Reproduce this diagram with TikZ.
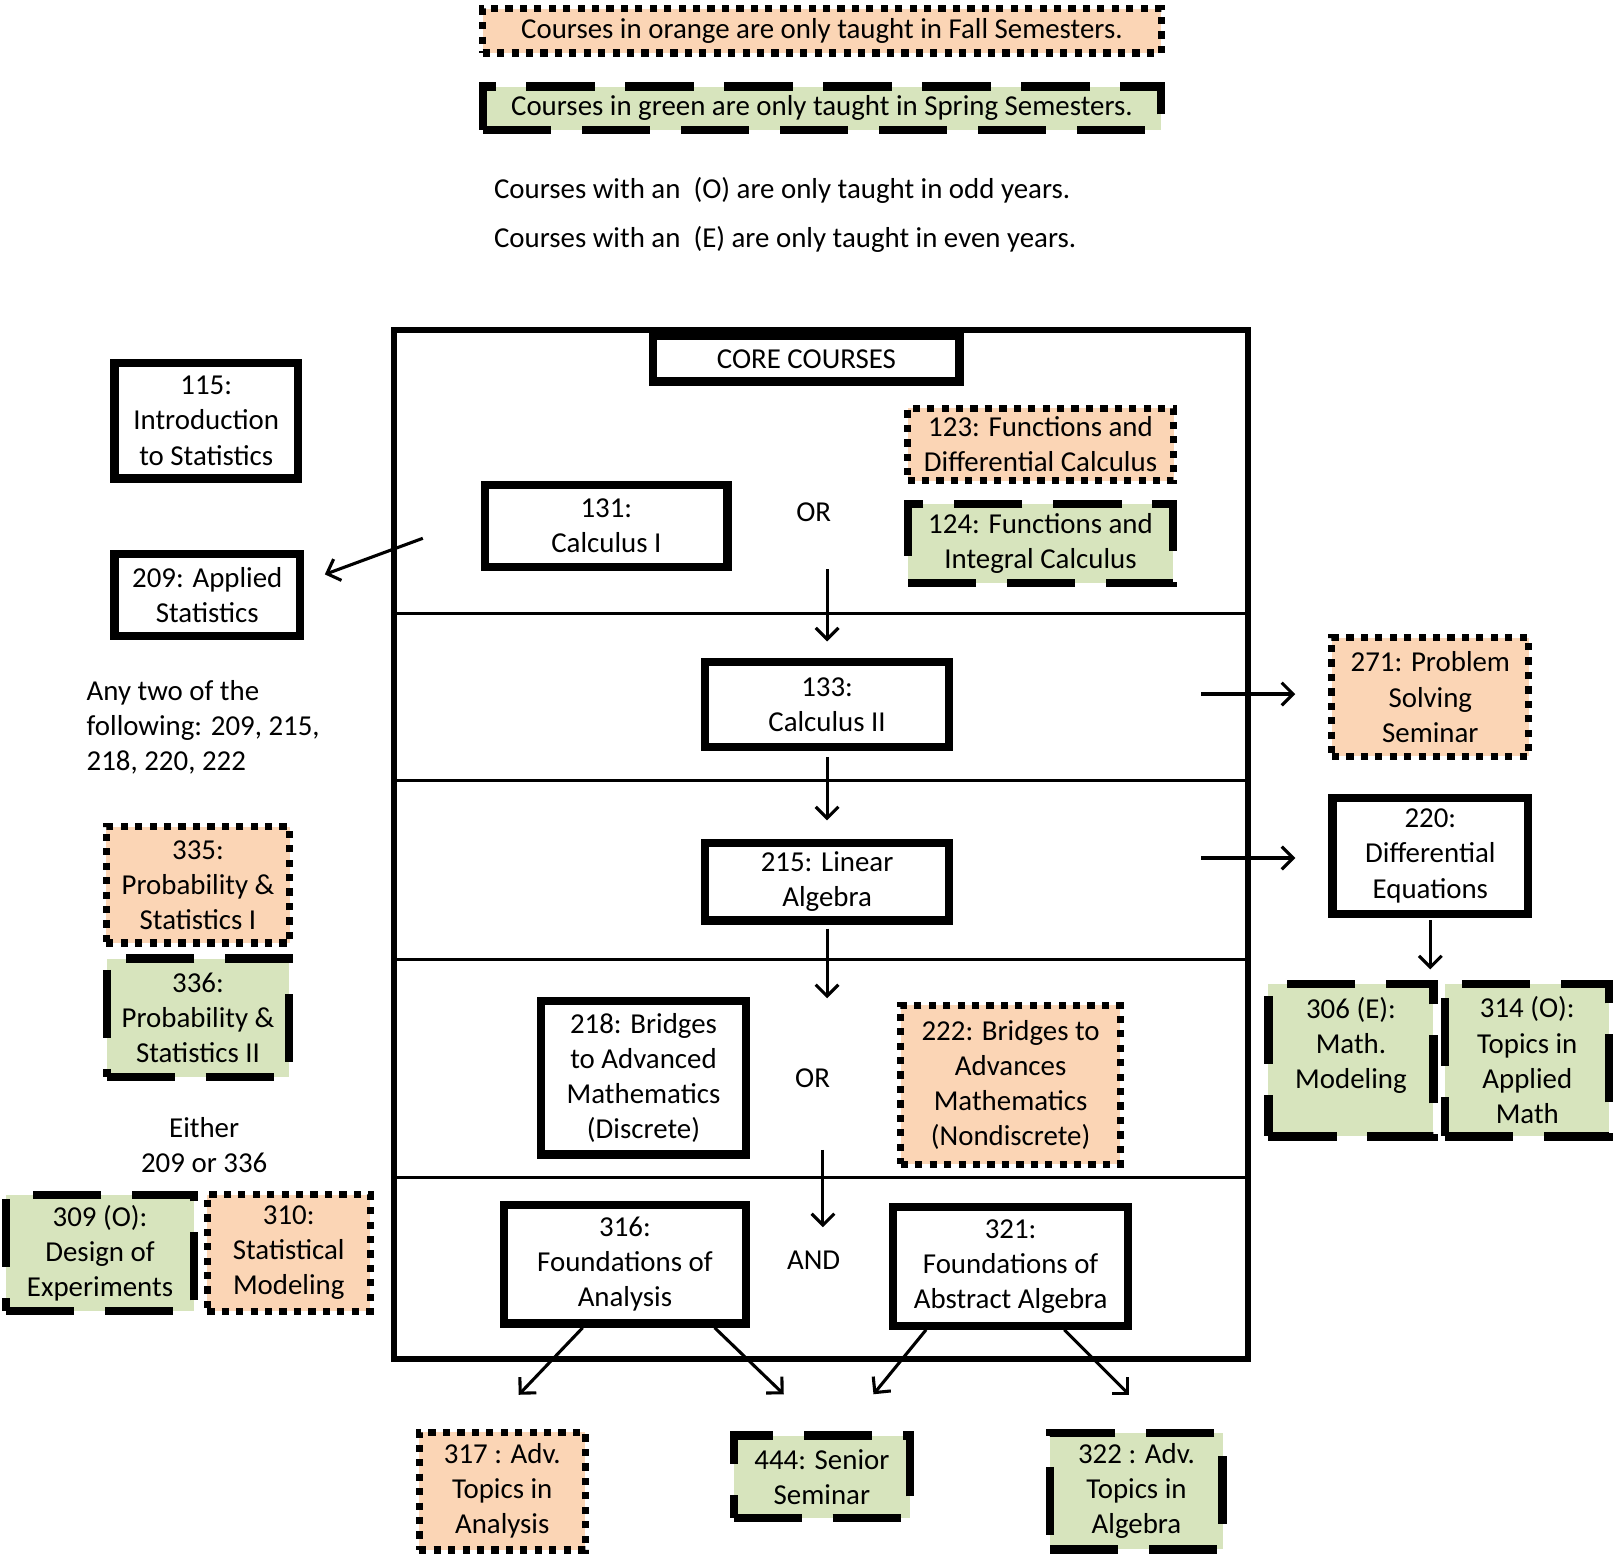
\documentclass[tikz,border=0pt]{standalone}
\usepackage{fontspec}
\setmainfont{Carlito}
\usetikzlibrary{arrows.meta}
\definecolor{fallor}{HTML}{FBD5B5}
\definecolor{springgr}{HTML}{D7E4BD}
\begin{document}
\begin{tikzpicture}[x=0.5pt,y=-0.5pt,
    every node/.style={font=\fontsize{14}{17}\selectfont},
    course/.style={draw, line width=4pt, align=center, inner sep=1pt},
    fall/.style={course, fill=fallor, line width=3.5pt, dash pattern=on 3.5pt off 3.5pt},
    spring/.style={course, fill=springgr, dash pattern=on 33pt off 15pt},
    arr/.style={-{Straight Barb[length=5.5pt,width=11pt]}, line width=1.5pt}]
    \useasboundingbox (0,0) rectangle (1568,1514);
    \node [fall, minimum width=329pt, minimum height=21.5pt] (lfall) at (797,30)
        {Courses in orange are only taught in Fall Semesters.};
    \node [spring, minimum width=328.5pt, minimum height=21pt] (lspring) at (797,105)
        {Courses in green are only taught in Spring Semesters.};
    \node [anchor=west] (lodd) at (472,185) {Courses with an\ \ (O) are only taught in odd years.};
    \node [anchor=west] (leven) at (472,232) {Courses with an\ \ (E) are only taught in even years.};
    \draw [line width=3pt] (382,320) rectangle (1210,1318);
    \foreach \y in {595,757,930,1142}
        \draw [line width=1.5pt] (382,\y) -- (1210,\y);
    \node [course, minimum width=148.5pt, minimum height=22pt] (core) at (782,348) {CORE COURSES};
    \node [course, minimum width=117.5pt, minimum height=39.5pt] (c131) at (588,510) {131:\\Calculus I};
    \node (or1) at (789,497) {OR};
    \node [fall, minimum width=129pt, minimum height=35pt] (c123) at (1009,431) {123: Functions and\\Differential Calculus};
    \node [spring, minimum width=128.5pt, minimum height=38.5pt] (c124) at (1009,527) {124: Functions and\\Integral Calculus};
    \node [course, minimum width=118.5pt, minimum height=41pt] (c133) at (802,683) {133:\\Calculus II};
    \node [course, minimum width=118.5pt, minimum height=37.5pt] (c215) at (802,855) {215: Linear\\Algebra};
    \node [course, minimum width=99.5pt, minimum height=74.5pt] (c218) at (624,1045) {218: Bridges\\to Advanced\\Mathematics\\(Discrete)};
    \node (or2) at (788,1046) {OR};
    \node [fall, minimum width=106.5pt, minimum height=77pt] (c222) at (980,1052) {222: Bridges to\\Advances\\Mathematics\\(Nondiscrete)};
    \node [course, minimum width=117.5pt, minimum height=57.5pt] (c316) at (606,1226) {316:\\Foundations of\\Analysis};
    \node (and) at (789,1222) {AND};
    \node [course, minimum width=114pt, minimum height=57.5pt] (c321) at (980,1228) {321:\\Foundations of\\Abstract Algebra};
    \node [fall, minimum width=80.5pt, minimum height=57pt] (c317) at (487,1446) {317 : Adv.\\Topics in\\Analysis};
    \node [spring, minimum width=85.5pt, minimum height=40pt] (c444) at (797,1432) {444: Senior\\Seminar};
    \node [spring, minimum width=83.5pt, minimum height=56.5pt] (c322) at (1102,1446) {322 : Adv.\\Topics in\\Algebra};
    \node [course, minimum width=89pt, minimum height=56pt] (c115) at (200,408) {115:\\Introduction\\to Statistics};
    \node [course, minimum width=90pt, minimum height=39.5pt] (c209) at (201,577) {209: Applied\\Statistics};
    \node [anchor=west, align=left] (anytwo) at (77,705) {Any two of the\\following: 209, 215,\\218, 220, 222};
    \node [fall, minimum width=89pt, minimum height=56.5pt] (c335) at (192,858) {335:\\Probability \&\\Statistics I};
    \node [spring, minimum width=88.5pt, minimum height=57.5pt] (c336) at (192,987) {336:\\Probability \&\\Statistics II};
    \node [align=center] (either) at (198,1110) {Either\\209 or 336};
    \node [spring, minimum width=91pt, minimum height=56pt] (c309) at (97,1215) {309 (O):\\Design of\\Experiments};
    \node [fall, minimum width=79pt, minimum height=56.5pt] (c310) at (280,1215) {310:\\Statistical\\Modeling};
    \node [fall, minimum width=95.5pt, minimum height=57.5pt] (c271) at (1387,676) {271: Problem\\Solving\\Seminar};
    \node [course, minimum width=95pt, minimum height=56.5pt] (c220) at (1387,830) {220:\\Differential\\Equations};
    \node [spring, minimum width=80pt, minimum height=74pt] (c306) at (1310,1028) {306 (E):\\Math.\\Modeling\\\mbox{}};
    \node [spring, minimum width=79.5pt, minimum height=74pt] (c314) at (1481,1028) {314 (O):\\Topics in\\Applied\\Math};
    \coordinate (r1) at (802,552);
    \coordinate (r3) at (802,968);
    \coordinate (r4) at (798,1115);
    \coordinate (r5) at (798,1190);
    \coordinate (s209) at (410,522);
    \coordinate (s271) at (1165,673);
    \coordinate (s220) at (1165,832);
    \coordinate (j220) at (1387,940);
    \draw [arr, shorten >=8pt] (r1) -- (c133.north);
    \draw [arr, shorten <=3pt, shorten >=9pt] (c133.south) -- (c215.north);
    \draw [arr, shorten <=2pt] (c215.south) -- (r3);
    \draw [arr] (r4) -- (r5);
    \draw [arr] (s209) -- ([shift={(10pt,10pt)}]c209.east);
    \draw [arr, shorten >=16pt] (s271) -- (s271 -| c271.west);
    \draw [arr, shorten >=16pt] (s220) -- (s220 -| c220.west);
    \draw [arr, shorten <=1pt] (c220.south) -- (j220);
    \draw [arr] ([xshift=-20.5pt]c316.south) -- ([xshift=8pt,yshift=16.5pt]c317.north);
    \draw [arr] ([xshift=43.5pt]c316.south) -- ([xshift=-18.5pt,yshift=18pt]c444.north);
    \draw [arr] ([xshift=-41pt]c321.south) -- ([xshift=25pt,yshift=18pt]c444.north);
    \draw [arr] ([xshift=26pt]c321.south) -- ([xshift=-3.5pt,yshift=16.5pt]c322.north);
\end{tikzpicture}
\end{document}
